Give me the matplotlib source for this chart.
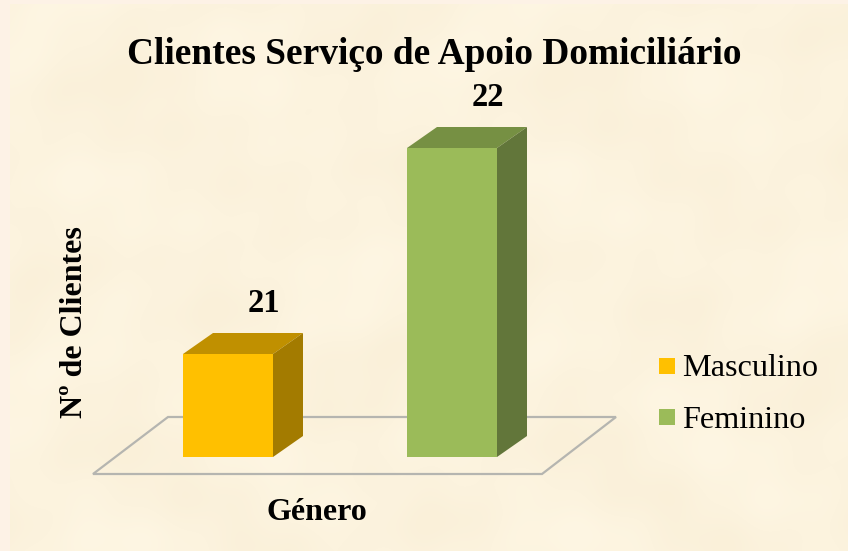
import numpy as np
import matplotlib
matplotlib.use("Agg")
import matplotlib.pyplot as plt
from matplotlib.patches import Polygon, Rectangle

# =========================
# DATA
# =========================
categories = ["Masculino", "Feminino"]
values = [21, 22]
front_colors = ["#FFC000", "#9BBB59"]
top_colors = ["#C09000", "#769043"]
side_colors = ["#A37B00", "#62763A"]

title = "Clientes Serviço de Apoio Domiciliário"
x_label = "Género"
y_label = "Nº de Clientes"

plt.rcParams["font.family"] = ["Liberation Serif", "DejaVu Serif"]

W, H = 848, 551
fig = plt.figure(figsize=(W / 100, H / 100), dpi=100, facecolor="#FDF2E6")

# axes over the whole figure, scaled so categories and values land where they should
ax = fig.add_axes([0, 0, 1, 1])
px_x = 224.0   # pixels per category
px_y = 206.0   # pixels per client
x0_px, base_px, base_val = 228.0, 457.0, 20.5
ax.set_xlim(-x0_px / px_x, (W - x0_px) / px_x)
ax.set_ylim(base_val - (H - base_px) / px_y, base_val + base_px / px_y)
ax.axis("off")

# parchment background, smooth blotches only
bg = fig.add_axes([10 / W, 0, (W - 10) / W, (H - 4) / H], zorder=-1)
yy, xx = np.mgrid[0:H - 4, 0:W - 10]
tex = (np.sin(xx / 37.0 + np.sin(yy / 53.0) * 2) + np.sin(yy / 29.0 + np.sin(xx / 71.0) * 2)
       + 0.6 * np.sin((xx + yy) / 17.0) * np.sin((xx - yy) / 23.0)) / 2.6
base = np.array([252, 243, 222]) / 255.0
amp = np.array([2, 3, 5]) / 255.0
bg.imshow(np.clip(base + tex[..., None] * amp, 0, 1), aspect="auto", interpolation="bilinear")
bg.axis("off")

# depth of the 3D look, in data units
dx = 30 / px_x
dy = 21 / px_y
half = 45 / px_x

# floor
floor_pts = [(-135 / px_x, base_val - 17 / px_y), (314 / px_x, base_val - 17 / px_y),
             (388 / px_x, base_val + 40 / px_y), (-60 / px_x, base_val + 40 / px_y)]
ax.add_patch(Polygon(floor_pts, closed=True, fill=False, edgecolor="#B5B5B0", lw=1.6, zorder=1))

# bars
for i, v in enumerate(values):
    l, r = i - half, i + half
    ax.add_patch(Rectangle((l, base_val), r - l, v - base_val, fc=front_colors[i], ec="none", zorder=3))
    ax.add_patch(Polygon([(l, v), (r, v), (r + dx, v + dy), (l + dx, v + dy)],
                         fc=top_colors[i], ec="none", zorder=3))
    ax.add_patch(Polygon([(r, base_val), (r + dx, base_val + dy), (r + dx, v + dy), (r, v)],
                         fc=side_colors[i], ec="none", zorder=3))
    ax.text(i + 36 / px_x, v + 51 / px_y, str(v), ha="center", va="center",
            fontsize=23.5, fontweight="bold", color="black")

# texts placed in axes fractions
ax.text(434 / W, 1 - 55 / H, title, transform=ax.transAxes, ha="center", va="center",
        fontsize=26.9, fontweight="bold", color="black")
ax.text(317 / W, 1 - 512 / H, x_label, transform=ax.transAxes, ha="center", va="center",
        fontsize=23, fontweight="bold", color="black")
ax.text(75 / W, 1 - 322 / H, y_label, transform=ax.transAxes, ha="center", va="center",
        rotation=90, fontsize=23, fontweight="bold", color="black")

# legend by hand so swatches and labels sit exactly
for i, name in enumerate(categories):
    y = 366 + i * 51
    ax.add_patch(Rectangle((659 / W, 1 - (y + 8) / H), 16 / W, 16 / H, transform=ax.transAxes,
                           fc=front_colors[i], ec="none"))
    ax.text(682 / W, 1 - (y + 3 + i) / H, name, transform=ax.transAxes, ha="left", va="center",
            fontsize=23.2, color="black")

fig.savefig("out.png", dpi=100, facecolor=fig.get_facecolor())
